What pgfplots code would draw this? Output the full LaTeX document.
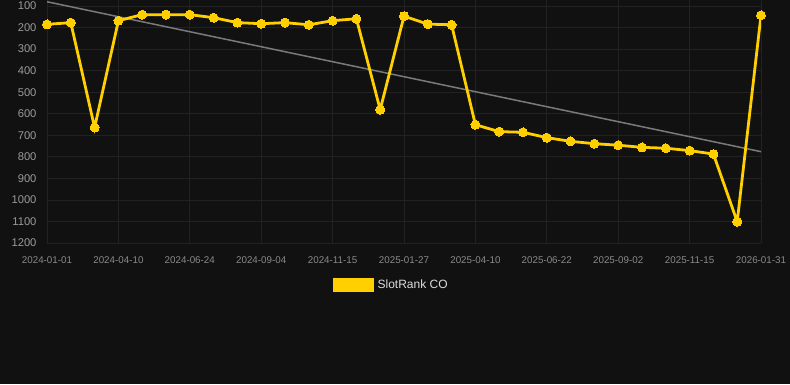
\documentclass[border=0pt]{standalone}
\usepackage{pgfplots}
\pgfplotsset{compat=1.18}
\usepackage{fontspec}
\setmainfont{Liberation Sans}
\definecolor{bg}{HTML}{111111}
\definecolor{gridc}{HTML}{222222}
\definecolor{gold}{RGB}{255,207,0}
\definecolor{trendc}{HTML}{7A7A7A}
\definecolor{ticktxt}{HTML}{9A9A9A}
\definecolor{xticktxt}{HTML}{8A8A8A}
\definecolor{legtxt}{HTML}{DDDDDD}
\begin{document}
\begin{tikzpicture}[x=1pt,y=1pt]
\fill[bg] (0,0) rectangle (790,-384);
\begin{axis}[
  at={(47pt,0pt)}, anchor=north west,
  scale only axis, width=714pt, height=243pt,
  xmin=0, xmax=30, ymin=72, ymax=1200, y dir=reverse,
  axis line style={draw=none},
  major tick length=0pt,
  grid=major, grid style={gridc, line width=0.8pt},
  xtick={0,3,...,30},
  xticklabels={2024-01-01,2024-04-10,2024-06-24,2024-09-04,2024-11-15,2025-01-27,2025-04-10,2025-06-22,2025-09-02,2025-11-15,2026-01-31},
  ytick={100,200,...,1200},
  yticklabel style={font=\fontsize{11.2}{13}\selectfont, text=ticktxt, xshift=-7pt},
  xticklabel style={font=\fontsize{9.8}{12}\selectfont, text=xticktxt, yshift=-10pt},
  /pgf/number format/assume math mode=true,
  /pgf/number format/1000 sep={},
  legend style={draw=none, fill=none, text=legtxt, font=\fontsize{12}{14}\selectfont, at={(0.4,-0.173)}, anchor=west, inner sep=0pt,
    /tikz/every odd column/.append style={column sep=2pt}},
  legend image code/.code={\fill[gold] (0pt,-5.5pt) rectangle (38pt,5.5pt);},
]
\addplot[trendc, line width=1.5pt, forget plot] coordinates {(0,80) (30,776)};
\addplot[gold, line width=2.8pt, mark=*, mark size=4.5pt, mark options={fill=gold, draw=gold, line width=0pt}] coordinates {
(0,185) (1,177) (2,664) (3,168) (4,140) (5,140) (6,140) (7,154) (8,177) (9,182)
(10,177) (11,187) (12,168) (13,159) (14,581) (15,147) (16,184) (17,187) (18,651) (19,683)
(20,686) (21,711) (22,728) (23,739) (24,746) (25,756) (26,760) (27,771) (28,787) (29,1101)
(30,143)};
\addlegendentry{SlotRank CO}
\end{axis}
\pgfresetboundingbox
\path[use as bounding box] (0,0) rectangle (790,-384);
\end{tikzpicture}
\end{document}
